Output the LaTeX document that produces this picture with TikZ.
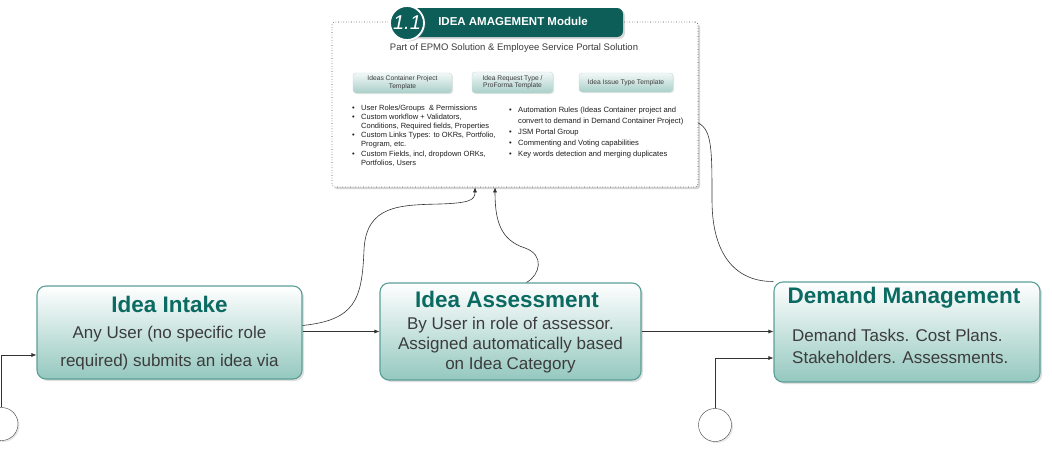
\documentclass[tikz,border=0pt]{standalone}
\usepackage{fontspec}
\setmainfont{Liberation Sans}
\usetikzlibrary{arrows.meta,shadows,positioning}

\definecolor{tealdark}{HTML}{0D5E59}
\definecolor{tealtitle}{HTML}{0B6A61}
\definecolor{tealedge}{HTML}{5A9F97}
\definecolor{tealfill}{HTML}{94C8BF}
\definecolor{btnfill}{HTML}{A9CFC9}
\definecolor{bodygray}{HTML}{3C3C3C}
\definecolor{listgray}{HTML}{1E1E1E}

\newcommand{\itembul}{\makebox[9pt][l]{\textbullet}}
\newcommand{\itemgap}{\hspace*{9pt}}

\begin{document}
\begin{tikzpicture}[x=1pt,y=-1pt,
  stagebox/.style={draw=tealedge, line width=1.1pt, rounded corners=9pt,
    top color=white, bottom color=tealfill,
    drop shadow={opacity=0.25, shadow xshift=2pt, shadow yshift=-2pt}},
  stagetitle/.style={text=tealtitle, font=\fontsize{22.5}{26}\selectfont\bfseries, inner sep=0pt},
  stagebody/.style={text=bodygray, inner sep=0pt},
  tmplbtn/.style={draw=btnfill!70!white, rounded corners=3pt, top color=white!85!btnfill,
    bottom color=btnfill, text=bodygray, font=\fontsize{6.7}{7.5}\selectfont, align=center,
    inner sep=0pt, drop shadow={opacity=0.2, shadow xshift=1pt, shadow yshift=-1pt}},
  listtext/.style={text=listgray, align=left, inner sep=0pt, anchor=north west},
  conn/.style={draw=black!80, line width=0.6pt, -{Latex[length=5pt,width=4pt]}},
  endcircle/.style={circle, draw=black!75, fill=white, minimum size=33pt, inner sep=0pt,
    drop shadow={opacity=0.2, shadow xshift=1.5pt, shadow yshift=-1.5pt}}
]
\useasboundingbox (0,0) rectangle (1052,450);

% module card
\node[draw=black!70, dotted, line width=0.6pt, fill=white, rounded corners=3pt, minimum width=366pt, minimum height=165pt,
  drop shadow={opacity=0.35, shadow xshift=2pt, shadow yshift=-2pt}] (module) at (515,104.5) {};
\node[fill=tealdark, rounded corners=6pt, minimum width=210pt, minimum height=29pt, inner sep=0pt,
  drop shadow={opacity=0.3, shadow xshift=2pt, shadow yshift=-2pt}] (badge) at (518,22.5) {};
\node[text=white, font=\fontsize{11.5}{13}\selectfont\bfseries] (badgetext) at (513,21) {IDEA AMAGEMENT Module};
\node[circle, fill=tealdark, draw=white, line width=1.8pt, minimum size=34pt, inner sep=0pt, text=white,
  font=\fontsize{20}{22}\selectfont\itshape,
  drop shadow={opacity=0.3, shadow xshift=1.5pt, shadow yshift=-1.5pt}] (badgenum) at (407,23) {1.1};
\node[text=bodygray, font=\fontsize{9.5}{11}\selectfont] (subtitle) at (514,48)
  {Part of EPMO Solution \& Employee Service Portal Solution};

\node[tmplbtn, minimum width=99pt, minimum height=20pt] (tplcontainer) at (402.5,83) {Ideas Container Project\\Template};
\node[tmplbtn, minimum width=81pt, minimum height=21pt] (tplrequest) at (512.5,82.5) {Idea Request Type /\\ProForma Template};
\node[tmplbtn, minimum width=94pt, minimum height=19pt] (tplissue) at (626,82.5) {Idea Issue Type Template};

\node[listtext, font=\fontsize{7.5}{9.2}\selectfont] (leftlist) at (352,104.5) {%
\itembul User Roles/Groups\ \ \& Permissions\\
\itembul Custom workflow + Validators,\\
\itemgap Conditions, Required fields, Properties\\
\itembul Custom Links Types: to OKRs, Portfolio,\\
\itemgap Program, etc.\\
\itembul Custom Fields, incl, dropdown ORKs,\\
\itemgap Portfolios, Users};
\node[listtext, font=\fontsize{7.6}{11}\selectfont] (rightlist) at (509,107) {%
\itembul Automation Rules (Ideas Container project and\\
\itemgap convert to demand in Demand Container Project)\\
\itembul JSM Portal Group\\
\itembul Commenting and Voting capabilities\\
\itembul Key words detection and merging duplicates};

% stages
\node[stagebox, minimum width=265pt, minimum height=93pt] (intake) at (169.5,332.5) {};
\node[stagetitle] (intaketitle) at (169.5,304) {Idea Intake};
\node[stagebody, align=center, font=\fontsize{17}{28}\selectfont] (intakebody) at (169.5,348)
  {Any User (no specific role\\required) submits an idea via};

\node[stagebox, minimum width=261pt, minimum height=97pt] (assess) at (510.5,331.5) {};
\node[stagetitle] (assesstitle) at (507,299) {Idea Assessment};
\node[stagebody, align=center, font=\fontsize{17}{20}\selectfont] (assessbody) at (510.5,345)
  {By User in role of assessor.\\Assigned automatically based\\on Idea Category};

\node[stagebox, minimum width=266pt, minimum height=100pt] (demand) at (907,332) {};
\node[stagetitle] (demandtitle) at (904,298) {Demand Management};
\node[stagebody, align=left, anchor=west, font=\fontsize{17}{22}\selectfont] (demandbody) at (792,346)
  {Demand Tasks. Cost Plans.\\Stakeholders. Assessments.};

% start circles
\node[endcircle] (startleft) at (1.5,424) {};
\node[endcircle] (startright) at (715,425) {};

% connectors
\draw[conn] (intake.east |- assess.west) -- (assess.west);
\draw[conn] (assess.east) -- (demand.west |- assess.east);
\draw[conn] (startleft.north) |- ([yshift=-22.5pt]intake.west);
\draw[conn] (startright.north) |- ([yshift=-26pt]demand.west);

\draw[conn] ([yshift=7pt]intake.east) .. controls (355,320) and (362,300) .. (364,250)
  .. controls (366,205) and (400,205) .. (440,204)
  .. controls (470,203) and (475,200) .. ([xshift=-40pt]module.south);
\draw[conn] ([xshift=16pt]assess.north) .. controls (540,275) and (545,255) .. (525,248)
  .. controls (500,240) and (495,220) .. ([xshift=-20pt]module.south);
\draw[draw=black!80, line width=0.6pt] ([yshift=-18.5pt]module.east) .. controls (712,130) and (712,150) .. (712,200)
  .. controls (712,260) and (740,282) .. (demand.north west);
\end{tikzpicture}
\end{document}
